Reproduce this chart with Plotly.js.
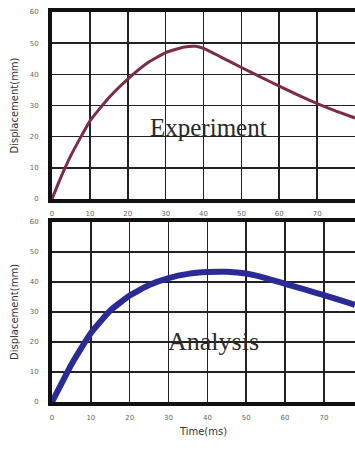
<!DOCTYPE html>
<html>
<head>
<meta charset="utf-8">
<script src="https://cdn.plot.ly/plotly-3.0.1.min.js"></script>
<style>
html,body{margin:0;padding:0;background:#fff;}
#chart{width:355px;height:450px;}
</style>
</head>
<body>
<div id="chart"></div>
<script>
// Experiment (top panel)
const expTime = [0, 2, 5, 10, 15, 20, 25, 30, 35, 38, 40, 45, 50, 55, 60, 65, 70, 75, 80];
const expDisp = [0, 6, 14, 25, 32.5, 38.5, 43.5, 47, 48.8, 49, 48.3, 45.3, 42.2, 39.2, 36.2, 33.3, 30.6, 28.2, 26];
// Analysis (bottom panel)
const anaTime = [0, 2, 5, 10, 15, 20, 25, 30, 35, 40, 45, 50, 55, 60, 65, 70, 75, 78];
const anaDisp = [0, 5, 12.5, 23, 30.5, 35.5, 39, 41.3, 42.7, 43.3, 43.4, 42.8, 41.3, 39.4, 37.5, 35.6, 33.6, 32.4];
const yTicks = [0, 10, 20, 30, 40, 50, 60];
const xTicksTop = [0, 10, 20, 30, 40, 50, 60, 70, 80];
const xTicksBottom = [0, 10, 20, 30, 40, 50, 60, 70];
const yTitle = "Displacement(mm)";
const xTitle = "Time(ms)";
const labelTop = "Experiment";
const labelBottom = "Analysis";

const tickFont = {family: "DejaVu Sans, sans-serif", size: 7, color: "#666"};
const gridStyle = {showgrid: true, gridcolor: "#222", gridwidth: 1.5, showline: true, linecolor: "#111", linewidth: 4, mirror: true, zeroline: false, ticks: "", tickfont: tickFont, fixedrange: true};

const traces = [
  {x: expTime, y: expDisp, xaxis: "x", yaxis: "y", mode: "lines", line: {color: "#7d2d43", width: 3, shape: "spline", smoothing: 0.4}, hoverinfo: "skip"},
  {x: anaTime, y: anaDisp, xaxis: "x2", yaxis: "y2", mode: "lines", line: {color: "#2b2b98", width: 6, shape: "spline", smoothing: 0.4}, hoverinfo: "skip"}
];

const layout = {
  width: 355, height: 450,
  margin: {l: 0, r: 0, t: 0, b: 0},
  paper_bgcolor: "#fff", plot_bgcolor: "#fff",
  showlegend: false,
  xaxis: Object.assign({}, gridStyle, {domain: [0.1465, 1.0], range: [0, 80], tickvals: xTicksTop, ticklabelstandoff: 5, anchor: "y"}),
  yaxis: Object.assign({}, gridStyle, {domain: [0.5578, 0.9733], range: [0, 60], tickvals: yTicks, ticklabelstandoff: 8, anchor: "x",
    title: {text: yTitle, font: {family: "DejaVu Sans, sans-serif", size: 10, color: "#333"}, standoff: 10}}),
  xaxis2: Object.assign({}, gridStyle, {domain: [0.1465, 1.0], range: [0, 78], tickvals: xTicksBottom, ticklabelstandoff: 6, anchor: "y2",
    title: {text: xTitle, font: {family: "DejaVu Sans, sans-serif", size: 10, color: "#333"}, standoff: 8}}),
  yaxis2: Object.assign({}, gridStyle, {domain: [0.1067, 0.5067], range: [0, 60], tickvals: yTicks, ticklabelstandoff: 8, anchor: "x2",
    title: {text: yTitle, font: {family: "DejaVu Sans, sans-serif", size: 10, color: "#333"}, standoff: 10}}),
  annotations: [
    {xref: "x", yref: "y", x: 41.3, y: 22.8, text: labelTop, showarrow: false, font: {family: "Liberation Serif, serif", size: 25, color: "#2a2a2a"}},
    {xref: "x2", yref: "y2", x: 41.6, y: 20, text: labelBottom, showarrow: false, font: {family: "Liberation Serif, serif", size: 26, color: "#2a2a2a"}}
  ]
};

Plotly.newPlot("chart", traces, layout, {staticPlot: true, displayModeBar: false});
</script>
</body>
</html>
